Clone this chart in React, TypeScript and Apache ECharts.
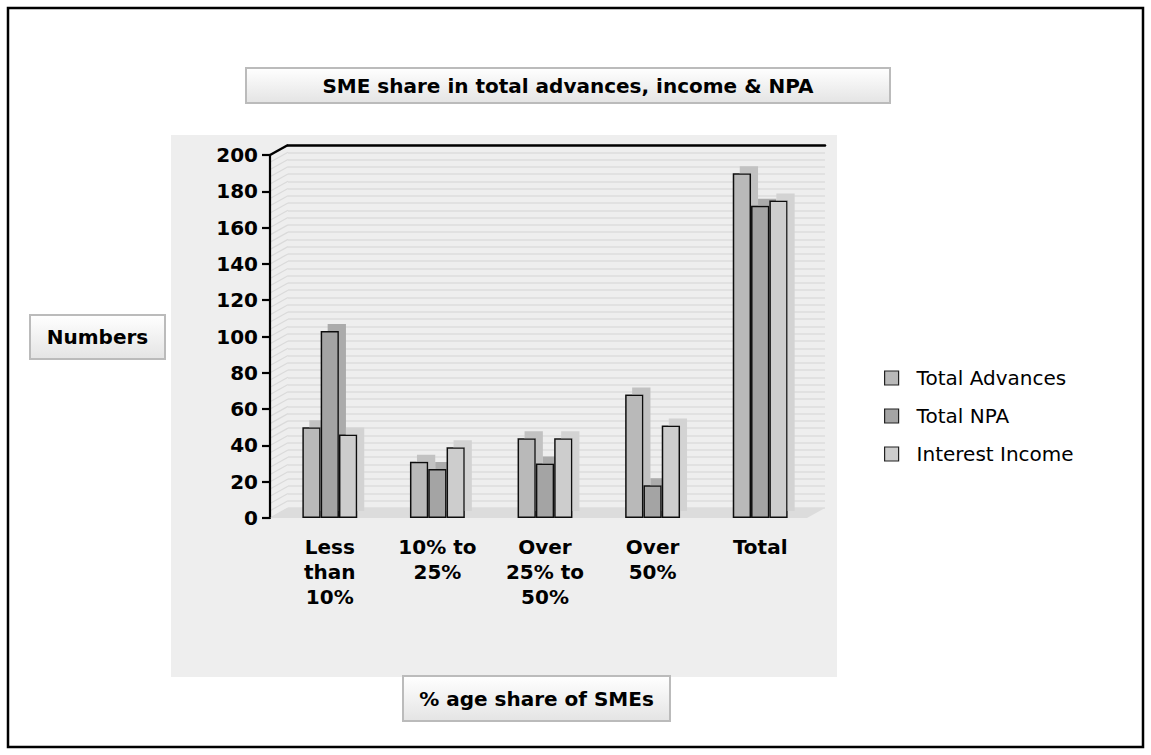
import React, { useEffect, useRef } from "react";
import * as echarts from "echarts";

// ---- data ----
const categories = ["Less\nthan\n10%", "10% to\n25%", "Over\n25% to\n50%", "Over\n50%", "Total"];
const seriesNames = ["Total Advances", "Total NPA", "Interest Income"];
const totalAdvances = [50, 31, 44, 68, 190];
const totalNPA = [103, 27, 30, 18, 172];
const interestIncome = [46, 39, 44, 51, 175];
const yMin = 0;
const yMax = 200;
const yInterval = 20;
const wallInterval = 4;
const titleText = "SME share in total advances, income & NPA";
const yAxisTitle = "Numbers";
const xAxisTitle = "% age share of SMEs";

const FONT = "DejaVu Sans";
const barColors = ["#b9b9b9", "#a4a4a4", "#cdcdcd"];
const shadowColors = ["#c2c2c2", "#ababab", "#d3d3d3"];

export default function App() {
  const ref = useRef<HTMLDivElement>(null);
  useEffect(() => {
    document.body.style.margin = "0";
    const el = ref.current!;
    const chart = echarts.init(el, null, { renderer: "svg" });
    const values = [totalAdvances, totalNPA, interestIncome];
    const option: any = {
      animation: false,
      backgroundColor: "#ffffff",
      legend: {
        orient: "vertical",
        left: 879,
        top: 363,
        itemWidth: 14,
        itemHeight: 14,
        itemGap: 18,
        icon: "rect",
        selectedMode: false,
        data: seriesNames,
        itemStyle: { shadowColor: "rgba(0,0,0,0)", shadowOffsetX: 0, shadowOffsetY: 0, borderWidth: 1.2, borderColor: "#222" },
        textStyle: { fontFamily: FONT, fontSize: 20, color: "#000", lineHeight: 20, padding: [0, 0, 0, 13] },
      },
      grid: [
        { left: 276, right: 337, top: 155, bottom: 237 },
        { left: 288, right: 326, top: 145, bottom: 247 },
      ],
      xAxis: [
        {
          type: "category",
          gridIndex: 0,
          data: categories,
          axisLine: { show: false },
          axisTick: { show: false },
          axisLabel: {
            interval: 0,
            margin: 16,
            fontFamily: FONT,
            fontSize: 20,
            fontWeight: "bold",
            color: "#000",
            lineHeight: 25,
          },
        },
        {
          type: "value",
          gridIndex: 1,
          position: "top",
          min: 0,
          max: 1,
          axisLine: { show: true, onZero: false, lineStyle: { color: "#000", width: 2.5 } },
          axisTick: { show: false },
          axisLabel: { show: false },
          splitLine: { show: false },
        },
      ],
      yAxis: [
        {
          type: "value",
          gridIndex: 0,
          min: yMin,
          max: yMax,
          interval: yInterval,
          offset: 6,
          axisLine: { show: true, lineStyle: { color: "#000", width: 2.2 } },
          axisTick: { show: true, length: 8, lineStyle: { color: "#000", width: 2.2 } },
          axisLabel: {
            margin: 12,
            fontFamily: FONT,
            fontSize: 20,
            fontWeight: "bold",
            color: "#000",
          },
          splitLine: { show: false },
        },
        {
          type: "value",
          gridIndex: 1,
          min: yMin,
          max: yMax,
          interval: wallInterval,
          axisLine: { show: false },
          axisTick: { show: false },
          axisLabel: { show: false },
          splitLine: { show: true, lineStyle: { color: "#dcdcdc", width: 1.5 } },
        },
      ],
      series: seriesNames.map((name, i) => ({
        name,
        type: "bar",
        xAxisIndex: 0,
        yAxisIndex: 0,
        data: values[i],
        barWidth: 18.3,
        barGap: "0%",
        z: 3,
        itemStyle: {
          color: barColors[i],
          borderColor: "#111",
          borderWidth: 1.5,
          shadowColor: shadowColors[i],
          shadowBlur: 0,
          shadowOffsetX: 7,
          shadowOffsetY: -7,
        },
      })),
    };
    chart.setOption(option);

    // decorations derived from the axes
    const model: any = (chart as any).getModel();
    const wallAxis = model.getComponent("yAxis", 1).axis;
    const wallTicks: any[] = wallAxis.getTicksCoords();
    const frontRect = model.getComponent("grid", 0).coordinateSystem.getRect();
    const backRect = model.getComponent("grid", 1).coordinateSystem.getRect();
    const axisX = frontRect.x - 6;
    const depthX = backRect.x - axisX;
    const depthY = frontRect.y - backRect.y;
    const yFront0 = chart.convertToPixel({ yAxisIndex: 0 }, yMin) as number;
    const yBack0 = chart.convertToPixel({ yAxisIndex: 1 }, yMin) as number;
    const yBackTop = chart.convertToPixel({ yAxisIndex: 1 }, yMax) as number;
    const backRight = backRect.x + backRect.width;

    const graphics: any[] = [
      // outer frame
      { type: "rect", z: -100, silent: true, shape: { x: 8, y: 8, width: 1135, height: 739 }, style: { fill: "#fff", stroke: "#000", lineWidth: 2.5 } },
      // plot background
      { type: "rect", z: -90, silent: true, shape: { x: 171, y: 135, width: 666, height: 542 }, style: { fill: "#eeeeee" } },
    ];
    wallTicks.forEach((t) => {
      const c = chart.convertToPixel({ yAxisIndex: 1 }, t.tickValue) as number;
      graphics.push({
        type: "line",
        z: -1,
        silent: true,
        shape: { x1: axisX, y1: c + depthY, x2: axisX + depthX, y2: c },
        style: { stroke: "#dadada", lineWidth: 1.2 },
      });
    });
    // floor
    graphics.push({
      type: "polygon",
      z: 1,
      silent: true,
      shape: {
        points: [
          [axisX, yFront0],
          [axisX + depthX, yBack0],
          [backRight, yBack0],
          [backRight - depthX, yFront0],
        ],
      },
      style: { fill: "#dcdcdc" },
    });
    // top corner diagonal
    graphics.push({
      type: "line",
      z: 5,
      silent: true,
      shape: { x1: axisX, y1: yBackTop + depthY, x2: axisX + depthX, y2: yBackTop },
      style: { stroke: "#000", lineWidth: 2.5 },
    });
    // title boxes
    const boxGrad = new echarts.graphic.LinearGradient(0, 0, 0, 1, [
      { offset: 0, color: "#ffffff" },
      { offset: 1, color: "#e4e4e4" },
    ]);
    const box = (x: number, y: number, w: number, h: number, text: string) => ({
      type: "group",
      z: 10,
      silent: true,
      children: [
        { type: "rect", shape: { x, y, width: w, height: h }, style: { fill: boxGrad, stroke: "#bbbbbb", lineWidth: 2 } },
        {
          type: "text",
          x: x + w / 2,
          y: y + h / 2,
          style: {
            text,
            fontFamily: FONT,
            fontSize: 20,
            fontWeight: "bold",
            fill: "#000",
            align: "center",
            verticalAlign: "middle",
          },
        },
      ],
    });
    graphics.push(box(246, 68, 644, 35, titleText));
    graphics.push(box(30, 315, 135, 44, yAxisTitle));
    graphics.push(box(403, 676, 267, 45, xAxisTitle));

    chart.setOption({ graphic: graphics });
    return () => chart.dispose();
  }, []);
  return <div ref={ref} style={{ width: 1151, height: 755 }} />;
}
